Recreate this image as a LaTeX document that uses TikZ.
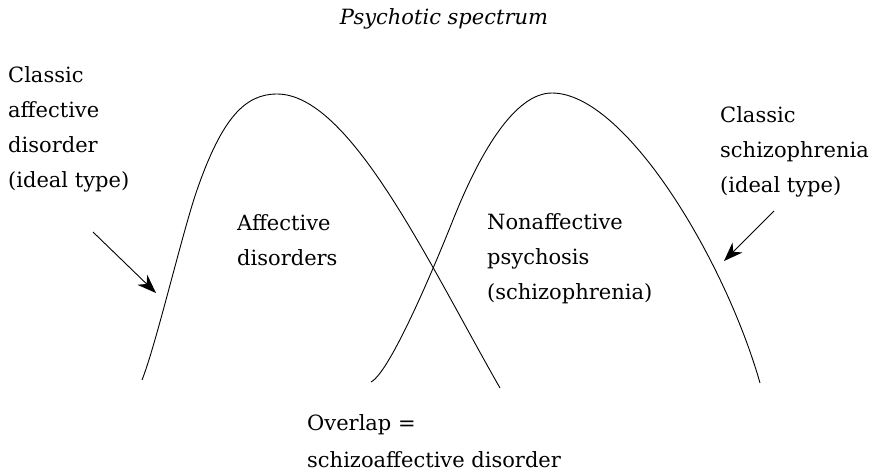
\documentclass[tikz,border=0pt]{standalone}
\usepackage{fontspec}
\setmainfont{DejaVu Serif}
\usetikzlibrary{arrows.meta}
\begin{document}
\begin{tikzpicture}[x=1pt,y=-1pt,
  lbl/.style={font=\fontsize{21}{35}\selectfont, inner sep=0pt, align=left, anchor=base west},
  curve/.style={line width=0.9pt},
  pointer/.style={line width=0.9pt,-{Stealth[length=19pt,width=14pt,inset=6pt]}}]
\useasboundingbox (0,0) rectangle (872,474);

% title
\node[font=\fontsize{21}{35}\selectfont\itshape, inner sep=0pt, anchor=base] (title) at (444,24) {Psychotic spectrum};

% affective distribution
\draw[curve] (142,380) .. controls (156,345) and (183,230) .. (197,190)
  .. controls (222,118) and (245,94) .. (277,94)
  .. controls (350,94) and (428,262) .. (500,388);
% nonaffective distribution
\draw[curve] (371,382) .. controls (390,372) and (433,270) .. (453,220)
  .. controls (480,152) and (515,93) .. (552,93)
  .. controls (625,93) and (725,260) .. (760,383);

% labels (anchored at the baseline of their last line)
\node[lbl] (classicaff) at (8,187) {Classic\\affective\\disorder\\(ideal type)};
\node[lbl] (affective) at (237,265) {Affective\\disorders};
\node[lbl] (nonaff) at (487,299) {Nonaffective\\psychosis\\(schizophrenia)};
\node[lbl] (classicsch) at (720,192) {Classic\\schizophrenia\\(ideal type)};
\node[lbl, font=\fontsize{21}{36.5}\selectfont] (overlap) at (307,467) {Overlap =\\schizoaffective disorder};

% pointers onto the curves
\coordinate (a1) at (93,232);
\coordinate (a2) at (156,293);
\coordinate (b1) at (774,211);
\coordinate (b2) at (724,261);
\draw[pointer] (a1) -- (a2);
\draw[pointer] (b1) -- (b2);
\end{tikzpicture}
\end{document}
